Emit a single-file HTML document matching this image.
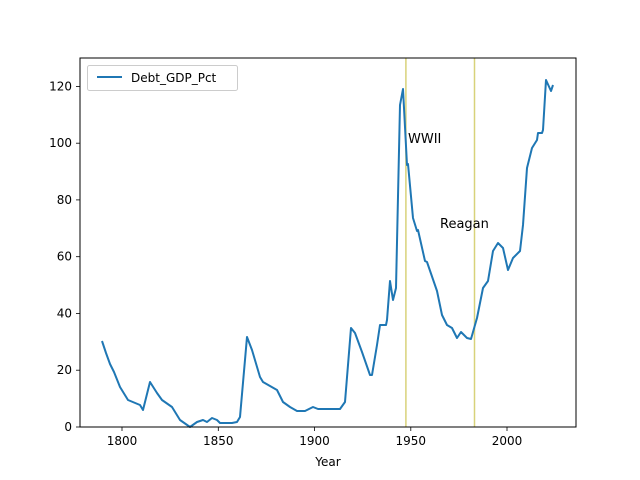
<!DOCTYPE html>
<html><head><meta charset="utf-8"><style>body{margin:0;background:#fff}svg{display:block;font-family:"DejaVu Sans","Liberation Sans",sans-serif}</style></head><body>
<svg width="640" height="480" viewBox="0 0 640 480">
<rect width="640" height="480" fill="#fff"/>
<line x1="405.9" y1="58" x2="405.9" y2="427" stroke="#d8d27a" stroke-width="1.5"/>
<line x1="474.5" y1="58" x2="474.5" y2="427" stroke="#d8d27a" stroke-width="1.5"/>
<polyline fill="none" stroke="#1f77b4" stroke-width="2" stroke-linejoin="round" points="102,341 106,353 110,364 114,372 120,387 128,400 140,405 143,410 150,382 157,393 162,400 172,407 180,420 190,427 197,422 203,420 207,422 212,418 217,420 220,423 232,423 237,422 240,417 247,337 252,350 260,377 263,382 277,390 283,402 290,407 297,411 305,411 313,407 318,409 340,409 345,402 351,328 355,333 362,352 370,375 372,375 377,345 380,325 386,325 387,320 390,281 393,300 396,288 400,105 403,89 407,165 408,164 413,218 417,231 418,230 425,261 427,262 437,291 442,315 447,325 452,328 457,338 461,332 467,338 471,339 477,318 483,288 488,281 493,251 498,243 503,248 508,270 513,258 520,251 523,225 527,168 532,148 537,140 538,133 542,133 543,130 546,80 551,91 553,85"/>
<text x="408" y="143" font-size="13">WWII</text>
<text x="440" y="228" font-size="13">Reagan</text>
<rect x="80" y="58" width="496" height="369" fill="none" stroke="#000" stroke-width="1"/>
<g stroke="#000" stroke-width="0.8">
<line x1="122" y1="427" x2="122" y2="431"/><line x1="218.3" y1="427" x2="218.3" y2="431"/><line x1="314.5" y1="427" x2="314.5" y2="431"/><line x1="410.8" y1="427" x2="410.8" y2="431"/><line x1="507" y1="427" x2="507" y2="431"/>
<line x1="76" y1="427" x2="80" y2="427"/><line x1="76" y1="370.2" x2="80" y2="370.2"/><line x1="76" y1="313.5" x2="80" y2="313.5"/><line x1="76" y1="256.7" x2="80" y2="256.7"/><line x1="76" y1="199.9" x2="80" y2="199.9"/><line x1="76" y1="143.2" x2="80" y2="143.2"/><line x1="76" y1="86.4" x2="80" y2="86.4"/>
</g>
<g font-size="12" text-anchor="middle">
<text x="122" y="445">1800</text><text x="218.3" y="445">1850</text><text x="314.5" y="445">1900</text><text x="410.8" y="445">1950</text><text x="507" y="445">2000</text>
<text x="328" y="466">Year</text>
</g>
<g font-size="12" text-anchor="end">
<text x="72" y="431">0</text><text x="72" y="374.2">20</text><text x="72" y="317.5">40</text><text x="72" y="260.7">60</text><text x="72" y="203.9">80</text><text x="72" y="147.2">100</text><text x="72" y="90.4">120</text>
</g>
<rect x="87.5" y="65.5" width="150" height="25" rx="2" fill="#fff" fill-opacity="0.8" stroke="#ccc"/>
<line x1="97" y1="77" x2="122" y2="77" stroke="#1f77b4" stroke-width="2"/>
<text x="131" y="82" font-size="12">Debt_GDP_Pct</text>
</svg>
</body></html>
